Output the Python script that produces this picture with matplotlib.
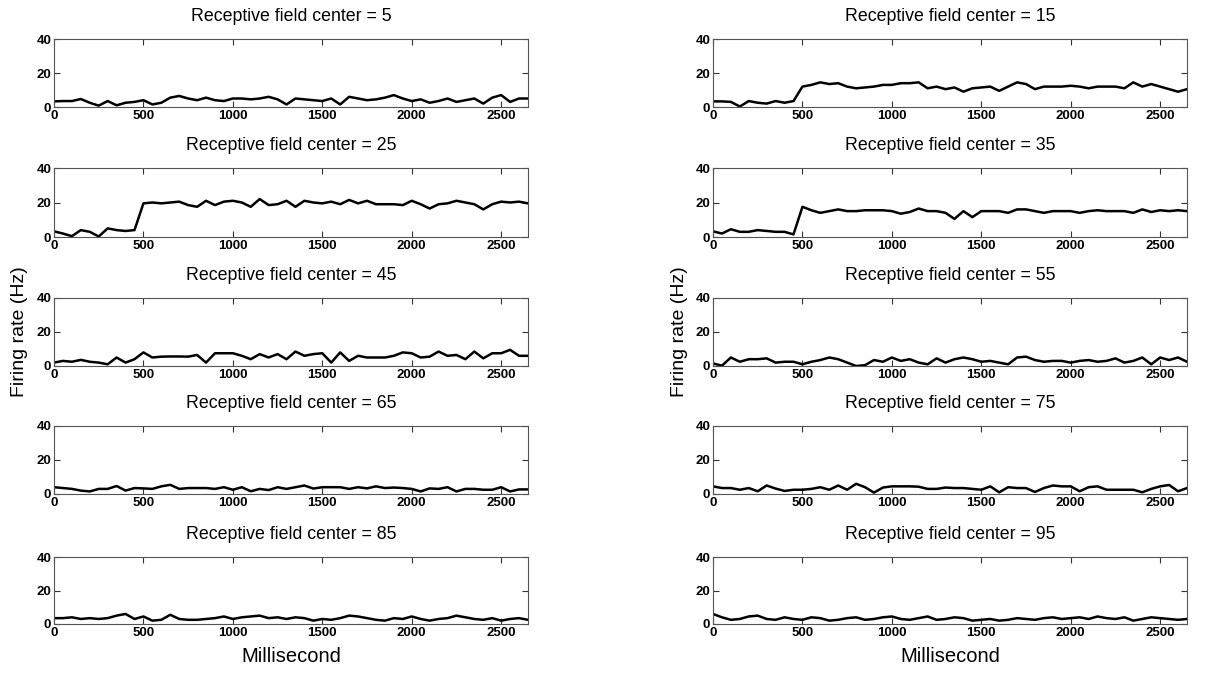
import matplotlib
matplotlib.use("Agg")
import matplotlib.pyplot as plt

plt.rcParams['font.family'] = ['Liberation Sans', 'DejaVu Sans']

# sample times (ms), one sample every 50 ms
time_ms = list(range(0, 2700, 50))

centers = [5, 15, 25, 35, 45, 55, 65, 75, 85, 95]

rate_5 = [3.3, 3.5, 3.5, 4.7, 2.5, 0.8, 3.5, 1.0, 2.5, 3.0, 4.0, 1.5, 2.5, 5.5, 6.5, 5.0, 4.0, 5.5,
          4.0, 3.5, 5.0, 5.0, 4.5, 5.0, 6.0, 4.5, 1.5, 5.0, 4.5, 4.0, 3.5, 5.0, 1.5, 6.0, 5.0, 4.0,
          4.5, 5.5, 7.0, 5.0, 3.5, 4.5, 2.5, 3.5, 5.0, 3.0, 4.0, 5.0, 2.0, 5.5, 7.0, 3.0, 5.0, 5.0]
rate_15 = [3.3, 3.3, 3.0, 0.3, 3.5, 2.5, 2.0, 3.5, 2.5, 3.5, 12.0, 13.0, 14.5, 13.5, 14.0, 12.0, 11.0, 11.5,
           12.0, 13.0, 13.0, 14.0, 14.0, 14.5, 11.0, 12.0, 10.5, 11.5, 9.0, 11.0, 11.5, 12.0, 9.5, 12.0, 14.5, 13.5,
           10.5, 12.0, 12.0, 12.0, 12.5, 12.0, 11.0, 12.0, 12.0, 12.0, 11.0, 14.5, 12.0, 13.5, 12.0, 10.5, 9.0, 10.5]
rate_25 = [3.3, 2.0, 0.5, 4.0, 3.0, 0.3, 5.0, 4.0, 3.5, 4.0, 19.5, 20.0, 19.5, 20.0, 20.5, 18.5, 17.5, 21.0,
           18.5, 20.5, 21.0, 20.0, 17.5, 22.0, 18.5, 19.0, 21.0, 17.5, 21.0, 20.0, 19.5, 20.5, 19.0, 21.5, 19.5, 21.0,
           19.0, 19.0, 19.0, 18.5, 21.0, 19.0, 16.5, 19.0, 19.5, 21.0, 20.0, 19.0, 16.0, 19.0, 20.5, 20.0, 20.5, 19.5]
rate_35 = [3.3, 2.0, 4.5, 3.0, 3.0, 4.0, 3.5, 3.0, 3.0, 1.5, 17.5, 15.5, 14.0, 15.0, 16.0, 15.0, 15.0, 15.5,
           15.5, 15.5, 15.0, 13.5, 14.5, 16.5, 15.0, 15.0, 14.0, 10.5, 15.0, 11.5, 15.0, 15.0, 15.0, 14.0, 16.0, 16.0,
           15.0, 14.0, 15.0, 15.0, 15.0, 14.0, 15.0, 15.5, 15.0, 15.0, 15.0, 14.0, 16.0, 14.5, 15.5, 15.0, 15.5, 15.0]
rate_45 = [2.0, 3.0, 2.5, 3.6, 2.5, 2.0, 1.0, 5.0, 2.0, 4.0, 8.0, 5.0, 5.5, 5.6, 5.6, 5.5, 6.5, 2.0,
           7.5, 7.5, 7.5, 6.0, 4.0, 7.0, 5.0, 7.0, 4.0, 8.5, 6.0, 7.0, 7.5, 2.0, 8.0, 3.0, 6.0, 5.0,
           5.0, 5.0, 6.0, 8.0, 7.5, 5.0, 5.5, 8.5, 6.0, 6.5, 4.0, 8.5, 4.5, 7.5, 7.5, 9.5, 6.0, 6.0]
rate_55 = [1.5, 0.2, 5.0, 2.5, 4.0, 4.0, 4.5, 2.0, 2.5, 2.5, 1.0, 2.5, 3.5, 5.0, 4.0, 2.0, 0.0, 0.5,
           3.5, 2.5, 5.0, 3.0, 4.0, 2.0, 1.0, 4.5, 2.0, 4.0, 5.0, 4.0, 2.5, 3.0, 2.0, 1.0, 5.0, 5.5,
           3.5, 2.5, 3.0, 3.0, 2.0, 3.0, 3.5, 2.5, 3.0, 4.5, 2.0, 3.0, 5.0, 1.0, 5.0, 3.5, 5.0, 2.5]
rate_65 = [4.0, 3.5, 3.0, 2.0, 1.5, 3.0, 3.0, 4.7, 2.0, 3.5, 3.3, 3.0, 4.5, 5.4, 3.0, 3.5, 3.5, 3.5,
           3.0, 4.0, 2.5, 4.0, 1.6, 3.0, 2.3, 4.0, 3.0, 4.0, 5.0, 3.2, 4.0, 4.0, 4.0, 3.0, 4.0, 3.3,
           4.5, 3.5, 3.8, 3.5, 3.0, 1.5, 3.3, 3.0, 4.0, 1.5, 3.0, 3.0, 2.5, 2.5, 4.0, 1.5, 2.7, 2.7]
rate_75 = [4.5, 3.5, 3.5, 2.5, 3.5, 1.6, 5.0, 3.2, 1.8, 2.5, 2.5, 3.0, 4.0, 2.5, 5.0, 2.5, 6.0, 4.0,
           0.8, 3.8, 4.5, 4.5, 4.5, 4.3, 3.0, 3.0, 3.8, 3.5, 3.5, 3.0, 2.5, 4.5, 1.0, 4.0, 3.5, 3.5,
           1.2, 3.5, 5.0, 4.5, 4.5, 1.6, 4.0, 4.5, 2.5, 2.5, 2.5, 2.5, 1.0, 3.0, 4.5, 5.3, 1.6, 3.5]
rate_85 = [3.5, 3.5, 4.0, 3.0, 3.5, 3.0, 3.5, 5.0, 6.0, 3.0, 4.5, 2.0, 2.5, 5.5, 3.0, 2.5, 2.5, 3.0,
           3.5, 4.5, 3.0, 4.0, 4.5, 5.0, 3.5, 4.0, 3.0, 4.0, 3.5, 2.0, 3.0, 2.5, 3.5, 5.0, 4.5, 3.5,
           2.5, 2.0, 3.5, 3.0, 4.5, 3.0, 2.0, 3.0, 3.5, 5.0, 4.0, 3.0, 2.5, 3.5, 2.0, 3.0, 3.5, 2.5]
rate_95 = [6.0, 4.0, 2.5, 3.0, 4.5, 5.0, 3.0, 2.5, 4.0, 3.0, 2.5, 4.0, 3.5, 2.0, 2.5, 3.5, 4.0, 2.5,
           3.0, 4.0, 4.5, 3.0, 2.5, 3.5, 4.5, 2.5, 3.0, 4.0, 3.5, 2.0, 2.5, 3.0, 2.0, 2.5, 3.5, 3.0,
           2.5, 3.5, 4.0, 3.0, 3.5, 4.0, 3.0, 4.5, 3.5, 3.0, 4.0, 2.0, 3.0, 4.0, 3.5, 3.0, 2.5, 3.0]

rates = [rate_5, rate_15, rate_25, rate_35, rate_45, rate_55, rate_65, rate_75, rate_85, rate_95]

x_ticks = [0, 500, 1000, 1500, 2000, 2500]
y_ticks = [0, 20, 40]

W, H = 1219, 673
fig = plt.figure(figsize=(W / 100, H / 100), dpi=100)

col_left_px = [54, 713]
ax_w_px = 474
rows_px = [(39, 107), (168, 237), (298, 366), (426, 494), (557, 624)]

for i, (c, r) in enumerate(zip(centers, rates)):
    row, col = divmod(i, 2)
    top, bot = rows_px[row]
    ax = fig.add_axes([col_left_px[col] / W, 1 - bot / H, ax_w_px / W, (bot - top) / H])
    ax.plot(time_ms, r, color='black', lw=1.8)
    ax.set_xlim(0, 2650)
    ax.set_ylim(0, 40)
    ax.set_xticks(x_ticks)
    ax.set_yticks(y_ticks)
    ax.tick_params(direction='in', top=True, right=True, length=4, width=0.8,
                   labelsize=9.5, pad=2, colors='#333333', labelcolor='black')
    for lab in ax.get_xticklabels() + ax.get_yticklabels():
        lab.set_fontweight('bold')
    for sp in ax.spines.values():
        sp.set_color('#555555')
        sp.set_linewidth(0.8)
    ax.set_title(f'Receptive field center = {c}', fontsize=12.8, pad=13)
    if row == 4:
        ax.set_xlabel('Millisecond', fontsize=14.5, labelpad=6)

fig.text(20 / W, 1 - 332 / H, 'Firing rate (Hz)', rotation=90, ha='center', va='center', fontsize=14)
fig.text(680 / W, 1 - 332 / H, 'Firing rate (Hz)', rotation=90, ha='center', va='center', fontsize=14)

fig.savefig('out.png', dpi=100)
